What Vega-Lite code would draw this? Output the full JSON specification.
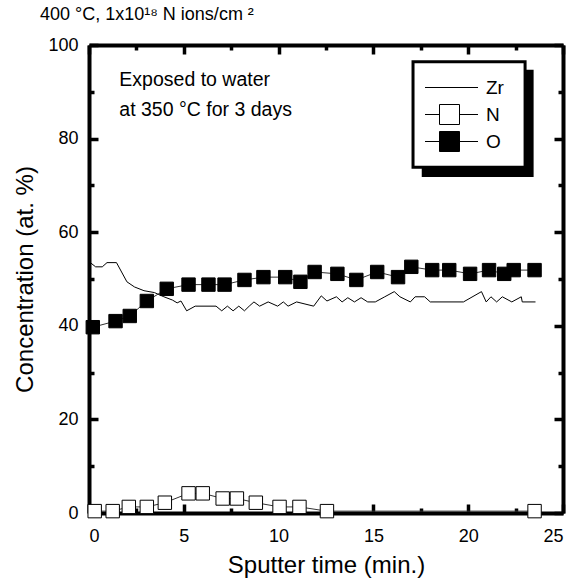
{
  "$schema": "https://vega.github.io/schema/vega-lite/v6.json",
  "width": 474,
  "height": 468,
  "autosize": {"type": "none"},
  "padding": {"left": 89, "top": 45, "right": 9, "bottom": 71},
  "background": "white",
  "title": {"text": "400 °C,  1x10¹⁸ N ions/cm ²", "anchor": "start", "frame": "group", "dx": -49, "offset": 12, "fontSize": 18, "font": "Liberation Sans", "fontWeight": "normal", "color": "black"},
  "config": {
    "view": {"stroke": null},
    "font": "Liberation Sans",
    "axis": {"grid": false, "labelColor": "black", "titleColor": "black", "labelFont": "Liberation Sans", "titleFont": "Liberation Sans", "labelFontSize": 18, "titleFontSize": 24, "titleFontWeight": "normal"}
  },
  "data": {"values": [
    {"series": "Zr", "t": 0.1, "v": 53.4}, {"series": "Zr", "t": 0.35, "v": 52.6}, {"series": "Zr", "t": 0.7, "v": 52.6}, {"series": "Zr", "t": 0.95, "v": 53.5}, {"series": "Zr", "t": 1.45, "v": 53.5}, {"series": "Zr", "t": 2.0, "v": 49.4}, {"series": "Zr", "t": 2.4, "v": 48.3}, {"series": "Zr", "t": 2.9, "v": 47.5}, {"series": "Zr", "t": 3.45, "v": 47.1}, {"series": "Zr", "t": 3.95, "v": 46.2}, {"series": "Zr", "t": 4.4, "v": 45.5}, {"series": "Zr", "t": 4.65, "v": 44.9}, {"series": "Zr", "t": 4.85, "v": 45.3}, {"series": "Zr", "t": 5.15, "v": 43.2}, {"series": "Zr", "t": 5.6, "v": 44.2}, {"series": "Zr", "t": 6.7, "v": 44.2}, {"series": "Zr", "t": 7.0, "v": 43.2}, {"series": "Zr", "t": 7.3, "v": 44.2}, {"series": "Zr", "t": 7.6, "v": 43.2}, {"series": "Zr", "t": 7.9, "v": 44.2}, {"series": "Zr", "t": 8.2, "v": 43.2}, {"series": "Zr", "t": 8.45, "v": 44.2}, {"series": "Zr", "t": 8.7, "v": 45.1}, {"series": "Zr", "t": 9.0, "v": 44.2}, {"series": "Zr", "t": 9.45, "v": 45.1}, {"series": "Zr", "t": 9.95, "v": 44.2}, {"series": "Zr", "t": 10.25, "v": 45.1}, {"series": "Zr", "t": 10.5, "v": 44.2}, {"series": "Zr", "t": 10.95, "v": 45.1}, {"series": "Zr", "t": 11.85, "v": 44.2}, {"series": "Zr", "t": 12.25, "v": 46.4}, {"series": "Zr", "t": 12.55, "v": 45.3}, {"series": "Zr", "t": 13.05, "v": 46.2}, {"series": "Zr", "t": 13.35, "v": 45.1}, {"series": "Zr", "t": 13.65, "v": 46.0}, {"series": "Zr", "t": 14.0, "v": 45.1}, {"series": "Zr", "t": 14.35, "v": 46.0}, {"series": "Zr", "t": 14.7, "v": 45.1}, {"series": "Zr", "t": 15.1, "v": 45.1}, {"series": "Zr", "t": 15.6, "v": 46.2}, {"series": "Zr", "t": 16.1, "v": 47.3}, {"series": "Zr", "t": 16.4, "v": 46.2}, {"series": "Zr", "t": 16.95, "v": 45.1}, {"series": "Zr", "t": 17.2, "v": 46.2}, {"series": "Zr", "t": 17.7, "v": 46.2}, {"series": "Zr", "t": 18.0, "v": 45.1}, {"series": "Zr", "t": 19.75, "v": 45.1}, {"series": "Zr", "t": 20.7, "v": 47.3}, {"series": "Zr", "t": 20.95, "v": 45.1}, {"series": "Zr", "t": 21.2, "v": 46.2}, {"series": "Zr", "t": 21.5, "v": 45.1}, {"series": "Zr", "t": 21.8, "v": 46.2}, {"series": "Zr", "t": 22.3, "v": 45.1}, {"series": "Zr", "t": 22.8, "v": 46.2}, {"series": "Zr", "t": 22.85, "v": 45.1}, {"series": "Zr", "t": 23.55, "v": 45.1},
    {"series": "N", "t": 0.3, "v": 0.4}, {"series": "N", "t": 1.25, "v": 0.4}, {"series": "N", "t": 2.1, "v": 1.3}, {"series": "N", "t": 3.05, "v": 1.3}, {"series": "N", "t": 4.0, "v": 2.2}, {"series": "N", "t": 5.25, "v": 4.2}, {"series": "N", "t": 6.0, "v": 4.2}, {"series": "N", "t": 7.05, "v": 3.1}, {"series": "N", "t": 7.8, "v": 3.1}, {"series": "N", "t": 8.8, "v": 2.2}, {"series": "N", "t": 10.05, "v": 1.3}, {"series": "N", "t": 11.1, "v": 1.3}, {"series": "N", "t": 12.55, "v": 0.4}, {"series": "N", "t": 23.5, "v": 0.4},
    {"series": "O", "t": 0.2, "v": 39.7}, {"series": "O", "t": 1.4, "v": 41.0}, {"series": "O", "t": 2.15, "v": 42.1}, {"series": "O", "t": 3.05, "v": 45.3}, {"series": "O", "t": 4.1, "v": 47.9}, {"series": "O", "t": 5.25, "v": 48.8}, {"series": "O", "t": 6.3, "v": 48.8}, {"series": "O", "t": 7.15, "v": 48.8}, {"series": "O", "t": 8.2, "v": 49.8}, {"series": "O", "t": 9.2, "v": 50.4}, {"series": "O", "t": 10.35, "v": 50.4}, {"series": "O", "t": 11.15, "v": 49.4}, {"series": "O", "t": 11.9, "v": 51.5}, {"series": "O", "t": 13.1, "v": 51.1}, {"series": "O", "t": 14.1, "v": 49.8}, {"series": "O", "t": 15.2, "v": 51.5}, {"series": "O", "t": 16.3, "v": 50.4}, {"series": "O", "t": 17.0, "v": 52.6}, {"series": "O", "t": 18.1, "v": 51.9}, {"series": "O", "t": 19.0, "v": 51.9}, {"series": "O", "t": 20.1, "v": 51.1}, {"series": "O", "t": 21.1, "v": 51.9}, {"series": "O", "t": 21.9, "v": 51.1}, {"series": "O", "t": 22.4, "v": 51.9}, {"series": "O", "t": 23.5, "v": 51.9}
  ]},
  "layer": [
    {
      "data": {"values": [{}]},
      "mark": {"type": "rect", "color": "black"},
      "encoding": {
        "x": {"datum": 17.55, "type": "quantitative", "axis": null},
        "x2": {"datum": 23.45},
        "y": {"datum": 94.7, "type": "quantitative", "axis": null},
        "y2": {"datum": 71.8}
      }
    },
    {
      "data": {"values": [{}]},
      "mark": {"type": "rect", "fill": "white", "stroke": "black", "strokeWidth": 3},
      "encoding": {
        "x": {"datum": 17.09, "type": "quantitative", "axis": null},
        "x2": {"datum": 23.0},
        "y": {"datum": 96.4, "type": "quantitative", "axis": null},
        "y2": {"datum": 73.9}
      }
    },
    {
      "transform": [{"filter": "datum.series === 'Zr'"}],
      "mark": {"type": "line", "strokeWidth": 1},
      "encoding": {
        "x": {"field": "t", "type": "quantitative", "scale": {"domain": [0, 25], "nice": false},
          "axis": {"orient": "bottom", "values": [0, 5, 10, 15, 20, 25], "domain": true, "domainColor": "black", "domainWidth": 4, "ticks": true, "tickColor": "black", "tickOpacity": 1, "tickSize": -9, "tickWidth": 3.5, "labelPadding": 23, "title": "Sputter time (min.)", "titlePadding": 8}},
        "y": {"field": "v", "type": "quantitative", "scale": {"domain": [0, 100], "nice": false},
          "axis": {"orient": "left", "values": [0, 20, 40, 60, 80, 100], "domain": true, "domainColor": "black", "domainWidth": 4, "ticks": true, "tickColor": "black", "tickOpacity": 1, "tickSize": -9, "tickWidth": 3.5, "labelPadding": 20, "title": "Concentration (at. %)", "titlePadding": 10}},
        "stroke": {"field": "series", "type": "nominal", "scale": {"domain": ["Zr"], "range": ["black"]},
          "legend": {"title": null, "orient": "none", "legendX": 324, "legendY": 17, "padding": 12,
            "symbolType": "M-2.85,0H2.85", "symbolSize": 400, "symbolStrokeWidth": 1, "symbolOffset": 14,
            "labelOffset": 26, "labelFontSize": 19, "labelFont": "Liberation Sans", "labelColor": "black", "clipHeight": 27}}
      }
    },
    {
      "transform": [{"filter": "datum.series === 'N'"}],
      "mark": {"type": "line", "color": "#333", "strokeWidth": 1},
      "encoding": {
        "x": {"field": "t", "type": "quantitative",
          "axis": {"orient": "bottom", "values": [2.5, 7.5, 12.5, 17.5, 22.5], "domain": false, "ticks": true, "tickColor": "black", "tickOpacity": 1, "tickSize": -5, "tickWidth": 3.5, "labels": false, "title": null}},
        "y": {"field": "v", "type": "quantitative",
          "axis": {"orient": "left", "values": [10, 30, 50, 70, 90], "domain": false, "ticks": true, "tickColor": "black", "tickOpacity": 1, "tickSize": -5, "tickWidth": 3.5, "labels": false, "title": null}}
      }
    },
    {
      "transform": [{"filter": "datum.series === 'O'"}],
      "mark": {"type": "line", "color": "#333", "strokeWidth": 1},
      "encoding": {
        "x": {"field": "t", "type": "quantitative",
          "axis": {"orient": "top", "values": [0, 5, 10, 15, 20, 25], "domain": true, "domainColor": "black", "domainWidth": 4, "ticks": true, "tickColor": "black", "tickOpacity": 1, "tickSize": -9, "tickWidth": 3.5, "labels": false, "title": null}},
        "y": {"field": "v", "type": "quantitative",
          "axis": {"orient": "right", "values": [0, 20, 40, 60, 80, 100], "domain": true, "domainColor": "black", "domainWidth": 4, "ticks": true, "tickColor": "black", "tickOpacity": 1, "tickSize": -9, "tickWidth": 3.5, "labels": false, "title": null}}
      }
    },
    {
      "transform": [{"filter": "datum.series !== 'Zr'"}],
      "mark": {"type": "point", "shape": "square", "filled": true, "size": 180, "stroke": "black", "strokeWidth": 1, "opacity": 1},
      "encoding": {
        "x": {"field": "t", "type": "quantitative",
          "axis": {"orient": "top", "values": [2.5, 7.5, 12.5, 17.5, 22.5], "domain": false, "ticks": true, "tickColor": "black", "tickOpacity": 1, "tickSize": -5, "tickWidth": 3.5, "labels": false, "title": null}},
        "y": {"field": "v", "type": "quantitative",
          "axis": {"orient": "right", "values": [10, 30, 50, 70, 90], "domain": false, "ticks": true, "tickColor": "black", "tickOpacity": 1, "tickSize": -5, "tickWidth": 3.5, "labels": false, "title": null}},
        "fill": {"field": "series", "type": "nominal",
          "scale": {"domain": ["N", "O"], "range": ["white", "black"]},
          "legend": {"title": null, "orient": "none", "legendX": 324, "legendY": 44, "padding": 12,
            "symbolType": "M-2.85,0H-1M1,0H2.85M-1,-1H1V1H-1Z", "symbolSize": 400, "symbolStrokeColor": "black", "symbolStrokeWidth": 1, "symbolOffset": 14,
            "labelOffset": 26, "labelFontSize": 19, "labelFont": "Liberation Sans", "labelColor": "black", "clipHeight": 27, "rowPadding": 0}}
      }
    },
    {
      "data": {"values": [{}]},
      "mark": {"type": "text", "text": "Exposed to water", "align": "left", "baseline": "middle", "fontSize": 19.5, "font": "Liberation Sans", "color": "black"},
      "encoding": {
        "x": {"datum": 1.6, "type": "quantitative", "axis": null},
        "y": {"datum": 92.5, "type": "quantitative", "axis": null}
      }
    },
    {
      "data": {"values": [{}]},
      "mark": {"type": "text", "text": "at 350 °C for 3 days", "align": "left", "baseline": "middle", "fontSize": 19.5, "font": "Liberation Sans", "color": "black"},
      "encoding": {
        "x": {"datum": 1.6, "type": "quantitative", "axis": null},
        "y": {"datum": 86.1, "type": "quantitative", "axis": null}
      }
    }
  ],
  "resolve": {"axis": {"x": "independent", "y": "independent"}}
}
